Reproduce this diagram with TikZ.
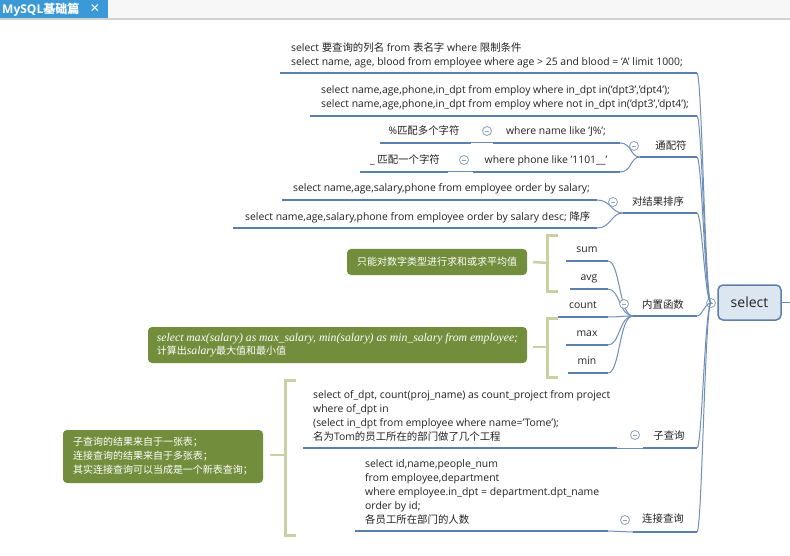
\documentclass[tikz,border=0pt]{standalone}
\usepackage{fontspec}
\setmainfont{Open Sans}
\newfontfamily\cjk{Noto Sans CJK SC}
\newfontfamily\symf{DejaVu Sans}
\newfontfamily\serifit{Liberation Serif}
\definecolor{lineblue}{HTML}{5A80AE}
\definecolor{thinblue}{HTML}{6F8FB8}
\definecolor{olivec}{HTML}{728E3C}
\definecolor{bracketc}{HTML}{C8D1A3}
\definecolor{tabblue}{HTML}{3B99D8}
\definecolor{nodefill}{HTML}{DCE6F1}
\definecolor{nodedraw}{HTML}{5E7FA9}
\definecolor{circc}{HTML}{8CA1BA}
\definecolor{txtc}{HTML}{222222}
\tikzset{
  txt/.style={inner sep=0, font=\fontsize{10.4}{14}\selectfont, text=txtc},
  mtxt/.style={txt, align=left, anchor=base west},
  stxt/.style={txt, anchor=base},
  uline/.style={draw=lineblue, line width=2.5pt},
  conn/.style={draw=thinblue, line width=1pt},
  fold/.style={circle, draw=circc, fill=white, line width=0.8pt, minimum size=9pt, inner sep=0,
     path picture={\draw[circc, line width=0.8pt] ([xshift=-2.3pt]path picture bounding box.center) -- ([xshift=2.3pt]path picture bounding box.center);}},
  summ/.style={fill=olivec, rounded corners=4pt, text=white, inner sep=0},
  brk/.style={draw=bracketc, line width=3pt},
  stub/.style={draw=bracketc, line width=2.5pt},
}
\begin{document}
\begin{tikzpicture}[x=1pt,y=-1pt]
\useasboundingbox (0,0) rectangle (790,556);
\fill[white] (0,0) rectangle (790,556);
% tab bar
\fill[black!3] (0,0) rectangle (790,18);
\fill[tabblue] (0,0) rectangle (108,18);
\fill[black!18] (0,18) rectangle (790,20.5);
\node[inner sep=0, anchor=base west, text=white, font=\fontsize{12}{14}\selectfont\bfseries] (tab) at (2,13.5) {MySQL{\cjk 基础篇}};
\node[inner sep=0, text=white, font=\symf\fontsize{12}{14}\selectfont\bfseries] (tabx) at (95,8.5) {✕};

% ---------- coordinates of underlines ----------
\coordinate (b1L) at (280,73);  \coordinate (b1R) at (697,73);
\coordinate (b2L) at (310,116); \coordinate (b2R) at (697,116);
\coordinate (b3L) at (640,157); \coordinate (b3R) at (697,157);
\coordinate (c3aL) at (493,143); \coordinate (c3aR) at (620,143);
\coordinate (d3aL) at (380,143); \coordinate (d3aR) at (471,143);
\coordinate (c3bL) at (473,172); \coordinate (c3bR) at (620,172);
\coordinate (d3bL) at (360,172); \coordinate (d3bR) at (448,172);
\coordinate (b4L) at (623,213); \coordinate (b4R) at (697,213);
\coordinate (c4aL) at (282,200); \coordinate (c4aR) at (597,200);
\coordinate (c4bL) at (233,228); \coordinate (c4bR) at (597,228);
\coordinate (b5L) at (633,316); \coordinate (b5R) at (697,316);
\coordinate (sumL) at (566,261); \coordinate (sumR) at (608,261);
\coordinate (avgL) at (570,289); \coordinate (avgR) at (608,289);
\coordinate (cntL) at (558,317); \coordinate (cntR) at (608,317);
\coordinate (maxL) at (566,345); \coordinate (maxR) at (608,345);
\coordinate (minL) at (568,373); \coordinate (minR) at (608,373);
\coordinate (b6L) at (643,448); \coordinate (b6R) at (697,448);
\coordinate (c6L) at (303,448); \coordinate (c6R) at (617,448);
\coordinate (b7L) at (633,532); \coordinate (b7R) at (697,532);
\coordinate (c7L) at (355,531); \coordinate (c7R) at (608,531);

% ---------- central topic ----------
\node[draw=nodedraw, fill=nodefill, rounded corners=5pt, line width=1.5pt, minimum width=63pt, minimum height=35pt, inner sep=0, text=txtc, font=\fontsize{14}{16}\selectfont] (sel) at (749.5,302.5) {select};
\coordinate (rend) at (790,302.5);
\draw[conn, line width=1.5pt] (sel.east) -- (rend);
\node[fold] (f0) at (711,303) {};

% ---------- main trunk connectors ----------
\foreach \b in {b1R,b2R,b3R,b4R,b5R,b6R,b7R}
  \draw[conn] (\b) .. controls +(5,0) and +(-6,0) .. (f0.center);

% ---------- subtree connectors ----------
\draw[conn] (c3aR) .. controls +(12,0) and +(-10,0) .. (b3L);
\draw[conn] (c3bR) .. controls +(12,0) and +(-10,0) .. (b3L);
\draw[conn] (d3aR) -- (c3aL);
\draw[conn] (d3bR) -- (c3bL);
\draw[conn] (c4aR) .. controls +(14,0) and +(-12,0) .. (b4L);
\draw[conn] (c4bR) .. controls +(14,0) and +(-12,0) .. (b4L);
\foreach \c in {sumR,avgR,cntR,maxR,minR}
  \draw[conn] (\c) .. controls +(12,0) and +(-14,0) .. (b5L);
\draw[conn] (c6R) -- (b6L);
\draw[conn] (c7R) -- (b7L);

% ---------- underlines ----------
\foreach \u in {b1,b2,b3,c3a,d3a,c3b,d3b,b4,c4a,c4b,b5,sum,avg,cnt,max,min,b6,c6,b7,c7}
  \draw[uline] (\u L) -- (\u R);

% ---------- fold circles ----------
\node[fold] (f3) at (634,146) {};
\node[fold] (f3a) at (487,131) {};
\node[fold] (f3b) at (464,160) {};
\node[fold] (f4) at (613,202) {};
\node[fold] (f5) at (624,304) {};
\node[fold] (f6) at (635,435) {};
\node[fold] (f7) at (625,520) {};

% ---------- texts (multi-line: base = last line) ----------
\node[mtxt] (t1) at (291,65.5) {select {\cjk 要查询的列名} from {\cjk 表名字} where {\cjk 限制条件}\\select name, age, blood from employee where age > 25 and blood = 'A' limit 1000;};
\node[mtxt] (t2) at (321,107.5) {select name,age,phone,in\_dpt from employ where in\_dpt in('dpt3','dpt4');\\select name,age,phone,in\_dpt from employ where not in\_dpt in('dpt3','dpt4');};
\node[stxt] (t3) at (671,149.5) {\cjk 通配符};
\node[stxt] (t3a) at (556,134.5) {where name like 'J\%';};
\node[stxt] (t3a1) at (424,134.5) {\%{\cjk 匹配多个字符}};
\node[stxt] (t3b) at (546,163.5) {where phone like '1101\_\_'};
\node[stxt] (t3b1) at (405,163.5) {\_ {\cjk 匹配一个字符}};
\node[stxt] (t4) at (658,205.5) {\cjk 对结果排序};
\node[mtxt] (t4a) at (293,191.5) {select name,age,salary,phone from employee order by salary;};
\node[mtxt] (t4b) at (245,220.5) {select name,age,salary,phone from employee order by salary desc; {\cjk 降序}};
\node[stxt] (t5) at (663,308.5) {\cjk 内置函数};
\node[stxt] (tsum) at (587,252.5) {sum};
\node[stxt] (tavg) at (589,280.5) {avg};
\node[stxt] (tcnt) at (583,308.5) {count};
\node[stxt] (tmax) at (587,336.5) {max};
\node[stxt] (tmin) at (587,364.5) {min};
\node[stxt] (t6) at (669,439.5) {\cjk 子查询};
\node[mtxt] (t6a) at (313,440) {select of\_dpt, count(proj\_name) as count\_project from project\\where of\_dpt in\\(select in\_dpt from employee where name='Tome');\\{\cjk 名为}Tom{\cjk 的员工所在的部门做了几个工程}};
\node[stxt] (t7) at (663,522.5) {\cjk 连接查询};
\node[mtxt] (t7a) at (365,523.5) {select id,name,people\_num\\from employee,department\\where employee.in\_dpt = department.dpt\_name\\order by id;\\{\cjk 各员工所在部门的人数}};

% ---------- summaries ----------
\node[summ, minimum width=180pt, minimum height=26pt, font=\cjk\fontsize{10}{13}\selectfont] (s1) at (437,262) {只能对数字类型进行求和或求平均值};
\node[summ, minimum width=379pt, minimum height=36pt, align=left, font=\serifit\itshape\fontsize{11.7}{13.5}\selectfont] (s2) at (337.5,345) {select max(salary) as max\_salary, min(salary) as min\_salary from employee;\\{\cjk\upshape\fontsize{10}{13}\selectfont 计算出}salary{\cjk\upshape\fontsize{10}{13}\selectfont 最大值和最小值}};
\node[summ, minimum width=200pt, minimum height=53pt, align=left, font=\cjk\fontsize{10}{14}\selectfont] (s3) at (163,456.5) {子查询的结果来自于一张表；\\连接查询的结果来自于多张表；\\其实连接查询可以当成是一个新表查询；};

% brackets
\coordinate (k1a) at (558,236); \coordinate (k1b) at (558,291);
\draw[brk] (k1a) -- (547,236) -- (547,291) -- (k1b);
\coordinate (k1m) at (547,263);
\draw[stub] ([xshift=6pt]s1.east) -- (k1m);
\coordinate (k2a) at (558,318); \coordinate (k2b) at (558,377);
\draw[brk] (k2a) -- (547,318) -- (547,377) -- (k2b);
\coordinate (k2m) at (547,347);
\draw[stub] ([xshift=6pt]s2.east |- k2m) -- (k2m);
\coordinate (k3a) at (296,380); \coordinate (k3b) at (296,535);
\draw[brk] (k3a) -- (285,380) -- (285,535) -- (k3b);
\coordinate (k3m) at (285,455);
\draw[stub] ([xshift=7pt]s3.east |- k3m) -- (k3m);
\end{tikzpicture}
\end{document}
